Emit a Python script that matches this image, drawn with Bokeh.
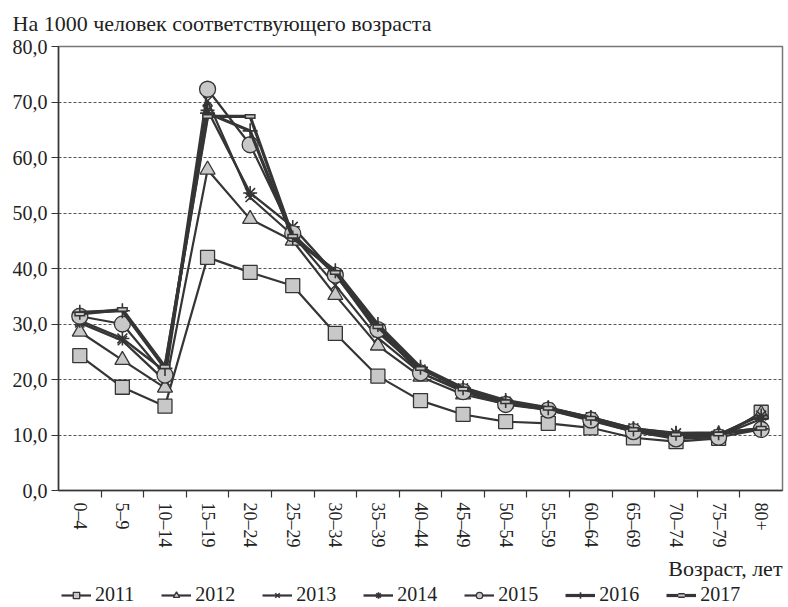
from bokeh.plotting import figure
from bokeh.layouts import column
from bokeh.models import (FixedTicker, CustomJSTickFormatter, Legend, LegendItem,
                          Title, Range1d)
from bokeh.embed import file_html
from bokeh.resources import INLINE

# ---- data -------------------------------------------------------------
ages = ["0–4", "5–9", "10–14", "15–19", "20–24", "25–29", "30–34", "35–39",
        "40–44", "45–49", "50–54", "55–59", "60–64", "65–69", "70–74", "75–79", "80+"]
years = ["2011", "2012", "2013", "2014", "2015", "2016", "2017"]

v2011 = [24.3, 18.6, 15.2, 42.0, 39.3, 36.9, 28.3, 20.6, 16.2, 13.7, 12.4, 12.1, 11.3, 9.5, 8.8, 9.4, 14.1]
v2012 = [28.6, 23.5, 18.5, 57.8, 48.9, 45.0, 35.2, 26.1, 20.5, 17.3, 15.6, 14.5, 12.6, 10.6, 9.5, 10.0, 13.8]
v2013 = [30.2, 27.0, 19.8, 70.2, 52.8, 46.0, 37.0, 27.5, 21.2, 18.0, 15.8, 14.6, 12.8, 10.8, 9.8, 9.8, 12.9]
v2014 = [30.6, 27.4, 21.5, 68.5, 53.6, 47.5, 39.0, 28.5, 21.8, 18.4, 16.0, 14.9, 13.2, 11.2, 10.3, 10.1, 13.5]
v2015 = [31.4, 30.0, 20.8, 72.3, 62.3, 46.3, 38.8, 29.0, 21.2, 17.8, 15.5, 14.5, 12.7, 10.6, 9.3, 9.6, 11.0]
v2016 = [32.1, 32.4, 22.0, 68.0, 64.8, 45.5, 39.6, 29.9, 22.2, 18.5, 16.2, 14.9, 13.1, 11.1, 10.3, 10.4, 11.1]
v2017 = [31.8, 32.6, 22.3, 67.4, 67.4, 45.8, 39.3, 29.5, 22.0, 18.3, 16.0, 14.8, 13.0, 11.0, 10.1, 10.2, 11.2]
series = [v2011, v2012, v2013, v2014, v2015, v2016, v2017]

y_ticks = [0, 10, 20, 30, 40, 50, 60, 70, 80]
grid_ticks = [10, 20, 30, 40, 50, 60, 70]

# ---- style ------------------------------------------------------------
FONT = "Liberation Serif"
DARK = "#353535"
FILL = "#c8c8c8"
TXT = "#222222"

x = list(range(len(ages)))

p1 = figure(frame_width=724, frame_height=444, output_backend="svg", toolbar_location=None,
            x_range=Range1d(-0.5, len(ages) - 0.5), y_range=Range1d(0, 80),
            min_border_left=58, min_border_right=4, min_border_top=46,
            min_border_bottom=93)

p1.title.text = "На 1000 человек соответствующего возраста"
p1.title.text_font = FONT
p1.title.text_font_size = "22px"
p1.title.text_font_style = "normal"
p1.title.text_color = TXT
p1.title.align = "left"
p1.title.vertical_align = "top"
p1.title.offset = -46
p1.title.standoff = 18

p1.outline_line_color = "#777777"
p1.outline_line_width = 1.5
p1.xgrid.visible = False
p1.ygrid.ticker = FixedTicker(ticks=grid_ticks)
p1.ygrid.grid_line_color = "#555555"
p1.ygrid.grid_line_dash = "3 2"
p1.ygrid.grid_line_width = 1

# y axis
p1.yaxis.ticker = FixedTicker(ticks=y_ticks)
p1.yaxis.formatter = CustomJSTickFormatter(code="return tick.toFixed(1).replace('.', ',');")
p1.yaxis.major_label_text_font = FONT
p1.yaxis.major_label_text_font_size = "20px"
p1.yaxis.major_label_text_color = TXT
p1.yaxis.axis_line_color = DARK
p1.yaxis.axis_line_width = 1.5
p1.yaxis.major_tick_line_color = DARK
p1.yaxis.major_tick_in = 0
p1.yaxis.major_tick_out = 7
p1.yaxis.minor_tick_line_color = None
p1.yaxis.major_label_standoff = 4

# x axis: labels at centres, ticks at boundaries
bounds = [i + 0.5 for i in range(len(ages) - 1)]
p1.xaxis.ticker = FixedTicker(ticks=x, minor_ticks=bounds)
p1.xaxis.formatter = CustomJSTickFormatter(args=dict(labels=ages),
                                           code="return labels[Math.round(tick)] || '';")
p1.xaxis.major_label_orientation = "vertical"
p1.xaxis.major_label_text_font = FONT
p1.xaxis.major_label_text_font_size = "18px"
p1.xaxis.major_label_text_color = TXT
p1.xaxis.major_tick_line_color = None
p1.xaxis.major_tick_in = 0
p1.xaxis.major_tick_out = 0
p1.xaxis.minor_tick_line_color = DARK
p1.xaxis.minor_tick_in = 0
p1.xaxis.minor_tick_out = 7
p1.xaxis.minor_tick_line_width = 1.2
p1.xaxis.axis_line_color = DARK
p1.xaxis.axis_line_width = 1.5
p1.xaxis.major_label_standoff = 5

markers = ["square", "triangle", "x", "asterisk", "circle", "cross", "dash"]
sizes = [14, 15, 13, 14, 16, 15, 11]
widths = [2.2, 2.2, 2.2, 2.4, 2.2, 3.2, 3.2]


def draw(fig, xs, vals, mk, sz, lw):
    rs = [fig.line(xs, vals, line_color=DARK, line_width=lw)]
    if mk == "dash":
        rs.append(fig.scatter(xs, vals, marker="dash", size=sz, line_color=DARK, line_width=5))
        rs.append(fig.scatter(xs, vals, marker="dash", size=sz - 3, line_color=FILL, line_width=2))
    else:
        rs.append(fig.scatter(xs, vals, marker=mk, size=sz, fill_color=FILL, line_color=DARK,
                              line_width=1.6 if mk in ("x", "asterisk", "cross") else 1.3))
    return rs


for vals, mk, sz, lw in zip(series, markers, sizes, widths):
    draw(p1, x, vals, mk, sz, lw)

xt = Title(text="Возраст, лет", align="right", text_font=FONT,
           text_font_size="22px", text_font_style="normal", text_color=TXT,
           standoff=6)
p1.add_layout(xt, "below")

# ---- legend strip: same series, ranges chosen so only the legend shows --
p2 = figure(width=786, height=24, output_backend="svg", toolbar_location=None,
            x_range=Range1d(100, 101), y_range=Range1d(100, 101),
            x_axis_location=None, y_axis_location=None,
            min_border_left=0, min_border_right=0, min_border_top=0, min_border_bottom=0)
p2.grid.visible = False
p2.outline_line_color = None

items = []
for yr, vals, mk, sz, lw in zip(years, series, markers, sizes, widths):
    rs = draw(p2, x, vals, mk, sz, lw)
    items.append(LegendItem(label=yr, renderers=rs))

leg = Legend(items=items, orientation="horizontal", location=(3, 1),
             label_text_font=FONT, label_text_font_size="20px",
             label_text_color=TXT, glyph_width=30, glyph_height=16,
             label_height=16, label_standoff=4, spacing=27, padding=0, margin=0,
             border_line_color=None, background_fill_alpha=0)
p2.add_layout(leg, "center")

p = column(p1, p2, spacing=0)

open("out.html", "w").write(file_html(p, INLINE))
